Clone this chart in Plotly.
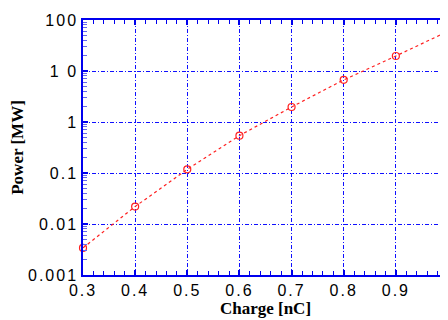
import plotly.graph_objects as go

charge = [0.3, 0.4, 0.5, 0.6, 0.7, 0.8, 0.9, 1.0]
power = [0.0034, 0.022, 0.118, 0.54, 1.97, 6.7, 19.7, 60]

x_ticks = [0.3, 0.4, 0.5, 0.6, 0.7, 0.8, 0.9, 1.0]
x_labels = ["0.3", "0.4", "0.5", "0.6", "0.7", "0.8", "0.9", "1"]
y_ticks = [0.001, 0.01, 0.1, 1, 10, 100]
y_labels = ["0.001", "0.01", "0.1", "1", "1 0", "100"]

blue = "#0000ee"
gridblue = "#1010ff"
red = "#ff2020"


def spaced(s):
    return '<span style="letter-spacing:2px">' + s + '</span>'


fig = go.Figure()
fig.add_trace(go.Scatter(
    x=charge, y=power, mode="lines+markers",
    line=dict(color=red, width=1.2, dash="dot"),
    marker=dict(symbol="circle-open", size=7, color=red, line=dict(width=1.2, color=red)),
    cliponaxis=False,
))

# page body has an 8px default margin; compensate
fig.update_layout(
    width=440, height=312,
    margin=dict(l=75, r=0, t=12, b=45),
    paper_bgcolor="white", plot_bgcolor="white",
    showlegend=False,
    font=dict(family="Liberation Sans, Arial, sans-serif", size=15, color="black"),
)
fig.update_xaxes(
    range=[0.3, 1.0], tickvals=x_ticks, ticktext=[spaced(t) for t in x_labels], automargin=False,
    showline=True, linecolor=blue, linewidth=1.5, mirror="allticks",
    ticks="inside", ticklen=5, tickcolor=blue, tickwidth=1.5,
    showgrid=True, gridcolor=gridblue, griddash="4px,2px,1px,2px", gridwidth=1.2,
    zeroline=False,
    minor=dict(ticks="inside", ticklen=4, dtick=0.02, tickcolor=blue, tickwidth=1, showgrid=False),
    title=dict(text="Charge [nC]", font=dict(family="Liberation Serif, Times New Roman, serif", size=17, weight="bold"), standoff=1),
    tickfont=dict(size=16),
)
fig.update_yaxes(
    type="log", range=[-3, 2], tickvals=y_ticks, ticktext=[spaced(t) for t in y_labels], automargin=False,
    showline=True, linecolor=blue, linewidth=1.5, mirror="allticks",
    ticks="inside", ticklen=5, tickcolor=blue, tickwidth=1.5,
    showgrid=True, gridcolor=gridblue, griddash="4px,2px,1px,2px", gridwidth=1.2,
    zeroline=False,
    minor=dict(ticks="inside", ticklen=4, tickcolor="#6666ee", tickwidth=1, dtick="D1", showgrid=False),
    title=dict(text="Power [MW]", font=dict(family="Liberation Serif, Times New Roman, serif", size=17, weight="bold"), standoff=5),
    tickfont=dict(size=16),
)

fig.write_html("out.html")
